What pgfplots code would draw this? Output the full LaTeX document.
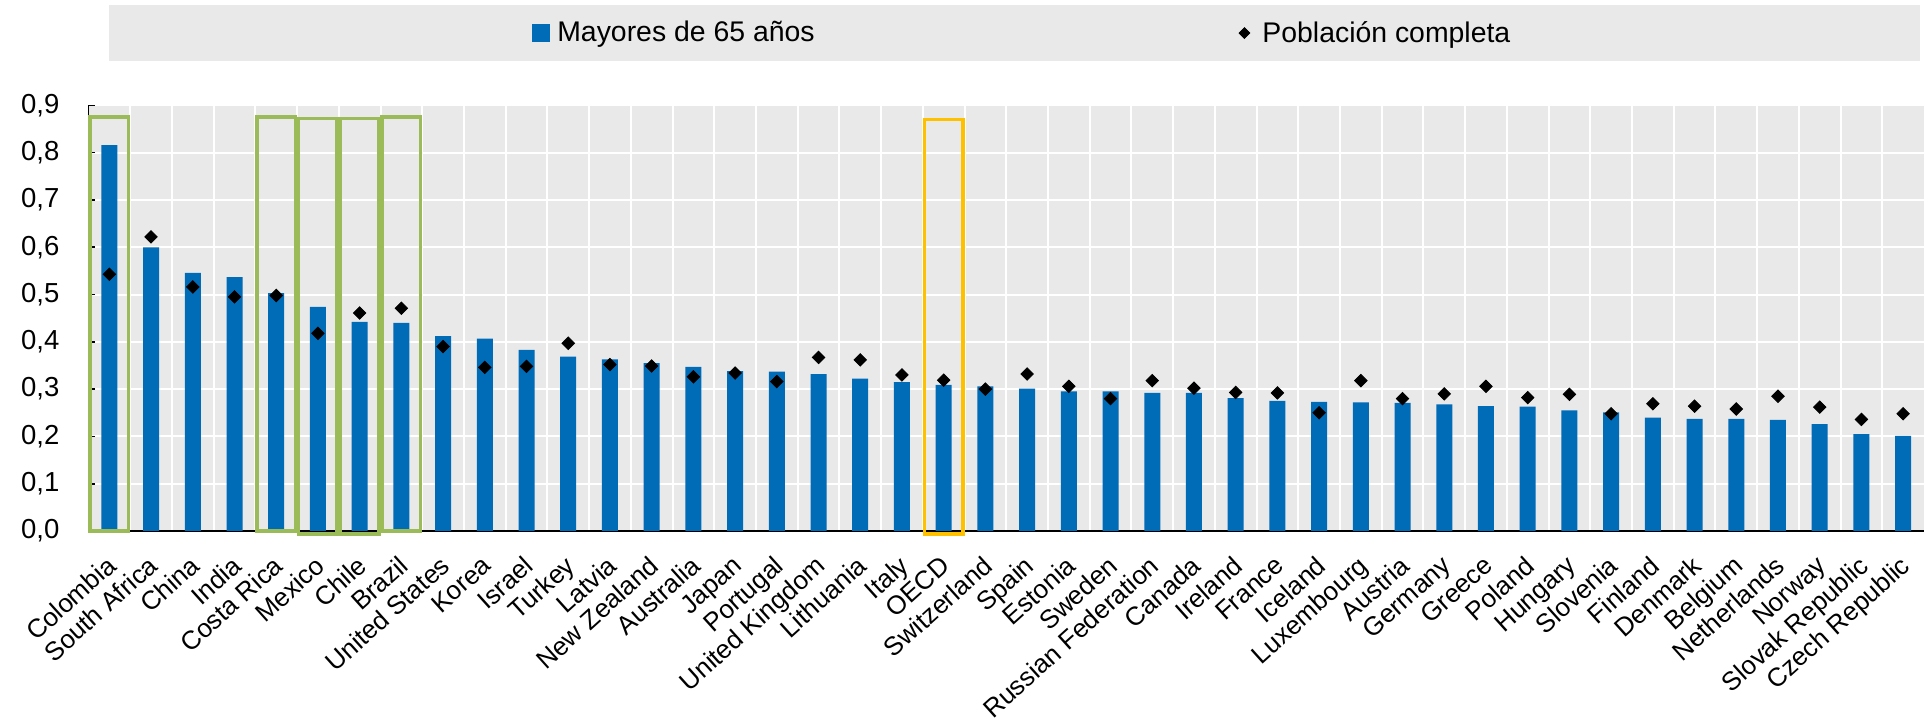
\documentclass[border=0pt]{standalone}
\usepackage{pgfplots}
\usepackage{pgfplotstable}
\pgfplotsset{compat=1.18}
\usepackage{fontspec}
\setmainfont{Liberation Sans}
\definecolor{oecdblue}{RGB}{0,107,182}
\definecolor{bggray}{RGB}{233,233,233}
\definecolor{boxgreen}{RGB}{155,187,89}
\definecolor{boxyellow}{RGB}{255,192,0}

\pgfplotstableread{
x bar dot
0 0.816 0.543
1 0.600 0.622
2 0.546 0.516
3 0.537 0.495
4 0.503 0.498
5 0.474 0.418
6 0.442 0.461
7 0.440 0.471
8 0.412 0.390
9 0.407 0.346
10 0.383 0.348
11 0.369 0.397
12 0.363 0.352
13 0.355 0.349
14 0.347 0.326
15 0.338 0.334
16 0.337 0.316
17 0.332 0.367
18 0.322 0.362
19 0.315 0.330
20 0.309 0.319
21 0.306 0.300
22 0.301 0.332
23 0.295 0.306
24 0.295 0.280
25 0.292 0.318
26 0.292 0.302
27 0.281 0.293
28 0.275 0.292
29 0.273 0.250
30 0.272 0.318
31 0.271 0.280
32 0.268 0.290
33 0.264 0.306
34 0.263 0.282
35 0.255 0.289
36 0.251 0.248
37 0.240 0.269
38 0.237 0.264
39 0.237 0.258
40 0.235 0.285
41 0.226 0.262
42 0.205 0.236
43 0.201 0.248
}\datatable

\begin{document}
\begin{tikzpicture}
\begin{axis}[
  scale only axis,
  width=917.75pt, height=212.8pt,
  xmin=-0.5, xmax=43.5, ymin=0, ymax=0.9,
  enlargelimits=false,
  clip=false,
  axis background/.style={fill=bggray},
  axis x line*=bottom, axis y line*=left,
  x axis line style={black, line width=1pt, -},
  y axis line style={black, line width=0.6pt, -},
  tick align=inside,
  major tick length=3.5pt,
  minor tick length=4.5pt,
  xtick=data,
  xtick style={draw=none},
  minor xtick={0.5,1.5,...,42.5},
  minor x tick style={black, line width=0.8pt},
  ytick={0,0.1,0.2,0.3,0.4,0.5,0.6,0.7,0.8,0.9},
  ytick style={black, line width=0.8pt},
  ymajorgrids, xminorgrids,
  major grid style={white, line width=1pt},
  minor grid style={white, line width=1pt},
  xticklabels={Colombia,South Africa,China,India,Costa Rica,Mexico,Chile,Brazil,United States,Korea,Israel,Turkey,Latvia,New Zealand,Australia,Japan,Portugal,United Kingdom,Lithuania,Italy,OECD,Switzerland,Spain,Estonia,Sweden,Russian Federation,Canada,Ireland,France,Iceland,Luxembourg,Austria,Germany,Greece,Poland,Hungary,Slovenia,Finland,Denmark,Belgium,Netherlands,Norway,Slovak Republic,Czech Republic},
  yticklabel style={font=\fontsize{13.75}{16}\selectfont},
  /pgf/number format/assume math mode=true,
  yticklabel style={/pgf/number format/.cd, fixed, fixed zerofill, precision=1, use comma, /tikz/.cd, xshift=-11pt},
  xticklabel style={font=\fontsize{13}{15}\selectfont, anchor=north east, inner sep=1pt, xshift=-2pt, yshift=-10pt, rotate=42},
  legend columns=2,
  legend style={at={(0.2416,1.170)}, anchor=west, draw=none, fill=none,
    inner sep=0pt, font=\fontsize{14.2}{16}\selectfont,
    nodes={inner sep=0pt},
    /tikz/every odd column/.style={column sep=3.5pt},
    /tikz/column 2/.style={column sep=212pt}},
]
\fill[bggray] (rel axis cs:0.0112,1.105) rectangle (rel axis cs:0.9978,1.235);
\addplot[ybar, bar width=8pt, bar shift=0pt, fill=oecdblue, draw=none,
  legend image code/.code={\fill[oecdblue] (0pt,-4.5pt) rectangle (9pt,4.5pt);}]
  table[x=x, y=bar] {\datatable};
\addlegendentry{Mayores de 65 años}
\addplot[only marks, mark=square*, mark size=2.2pt, mark options={rotate=45, fill=black, draw=black},
  legend image code/.code={\fill[black] (0pt,0pt) -- (2.7pt,2.7pt) -- (5.4pt,0pt) -- (2.7pt,-2.7pt) -- cycle; \path (8pt,0pt);}]
  table[x=x, y=dot] {\datatable};
\addlegendentry{Población completa}
\draw[boxgreen, line width=1.75pt] (axis cs:-0.46,0) rectangle (axis cs:0.46,0.876);
\draw[boxgreen, line width=1.75pt] (axis cs:3.54,0) rectangle (axis cs:4.46,0.876);
\draw[boxgreen, line width=1.75pt] (axis cs:4.54,-0.006) rectangle (axis cs:5.46,0.872);
\draw[boxgreen, line width=1.75pt] (axis cs:5.54,-0.006) rectangle (axis cs:6.46,0.872);
\draw[boxgreen, line width=1.75pt] (axis cs:6.54,0) rectangle (axis cs:7.46,0.876);
\draw[boxyellow, line width=1.75pt] (axis cs:19.54,-0.006) rectangle (axis cs:20.46,0.870);
\end{axis}
\pgfresetboundingbox
\path[use as bounding box] (-44.25pt,-95.5pt) rectangle (917.75pt,265.5pt);
\end{tikzpicture}
\end{document}
